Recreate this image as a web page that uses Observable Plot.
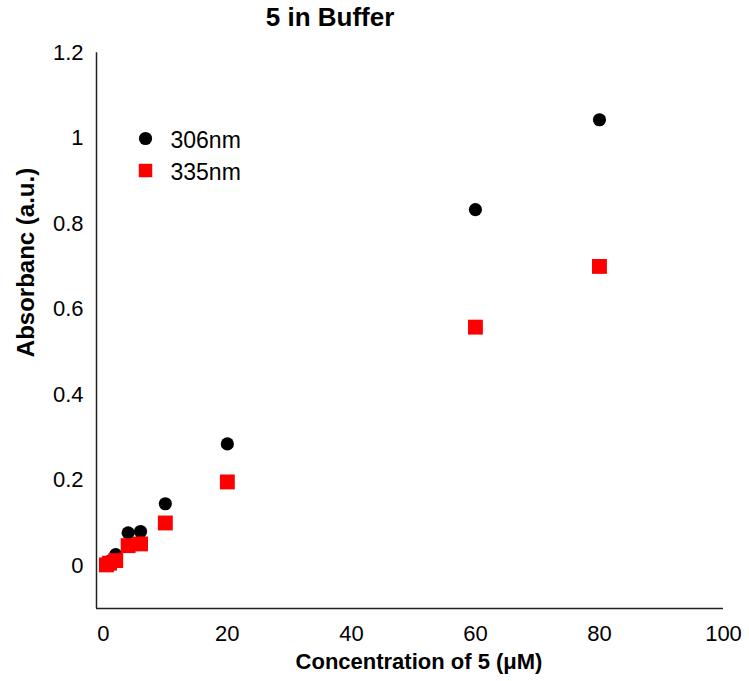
<!DOCTYPE html>
<html>
<head>
<meta charset="utf-8">
<script src="https://cdn.jsdelivr.net/npm/d3@7"></script>
<script src="https://cdn.jsdelivr.net/npm/@observablehq/plot@0.6"></script>
<style>
  html, body { margin: 0; padding: 0; background: #fff; }
</style>
</head>
<body>
<div id="chart"></div>
<script>
const concentration = [0.5, 1, 2, 4, 6, 10, 20, 60, 80];
const abs306 = [0.005, 0.01, 0.026, 0.077, 0.08, 0.145, 0.285, 0.833, 1.043];
const abs335 = [0.002, 0.006, 0.012, 0.047, 0.051, 0.100, 0.196, 0.558, 0.700];
const seriesNames = ["306nm", "335nm"];
const xTicks = [0, 20, 40, 60, 80, 100];
const yTicks = [0, 0.2, 0.4, 0.6, 0.8, 1, 1.2];
const xDomain = [-1.1, 100];
const yDomain = [-0.1, 1.205];

const d306 = concentration.map((c, i) => ({x: c, y: abs306[i]}));
const d335 = concentration.map((c, i) => ({x: c, y: abs335[i]}));

const font = "'Liberation Sans', Arial, sans-serif";

const chart = Plot.plot({
  width: 749,
  height: 681,
  marginLeft: 96,
  marginRight: 26,
  marginTop: 50,
  marginBottom: 73,
  style: {fontFamily: font, fontSize: "22px", color: "#000", background: "#fff"},
  x: {domain: xDomain, ticks: xTicks, tickSize: 0, tickPadding: 17, label: null, tickFormat: d => String(d)},
  y: {domain: yDomain, ticks: yTicks, tickSize: 0, tickPadding: 13, label: null, tickFormat: d => String(d)},
  marks: [
    Plot.ruleX([xDomain[0]], {y1: yDomain[0], y2: 1.2, stroke: "#222", strokeWidth: 1.5}),
    Plot.ruleY([yDomain[0]], {x1: xDomain[0], x2: xDomain[1], stroke: "#222", strokeWidth: 1.5}),
    Plot.dot(d306, {x: "x", y: "y", r: 6.6, fill: "#000", stroke: "none", symbol: "circle"}),
    Plot.dot(d335, {x: "x", y: "y", r: 8.4, fill: "#ff0000", stroke: "none", symbol: "square"}),
    // legend
    Plot.dot([seriesNames[0]], {frameAnchor: "top-left", dx: 49, dy: 88, r: 6.6, fill: "#000", symbol: "circle"}),
    Plot.dot([seriesNames[1]], {frameAnchor: "top-left", dx: 49, dy: 120, r: 7.6, fill: "#ff0000", symbol: "square"}),
    Plot.text([seriesNames[0]], {frameAnchor: "top-left", dx: 74, dy: 90, textAnchor: "start", lineAnchor: "middle", fontSize: 23, fill: "#000"}),
    Plot.text([seriesNames[1]], {frameAnchor: "top-left", dx: 74, dy: 122, textAnchor: "start", lineAnchor: "middle", fontSize: 23, fill: "#000"}),
    // titles
    Plot.text(["5 in Buffer"], {frameAnchor: "top", dx: -80, dy: -33, lineAnchor: "middle", fontSize: 26, fontWeight: "bold", fill: "#000"}),
    Plot.text(["Concentration of 5 (μM)"], {frameAnchor: "bottom", dx: 9, dy: 53, lineAnchor: "middle", fontSize: 22, fontWeight: "bold", fill: "#000"}),
    Plot.text(["Absorbanc (a.u.)"], {frameAnchor: "left", dx: -70, dy: -67, textAnchor: "middle", lineAnchor: "middle", rotate: -90, fontSize: 24, fontWeight: "bold", fill: "#000"})
  ]
});
document.getElementById("chart").appendChild(chart);
</script>
</body>
</html>
